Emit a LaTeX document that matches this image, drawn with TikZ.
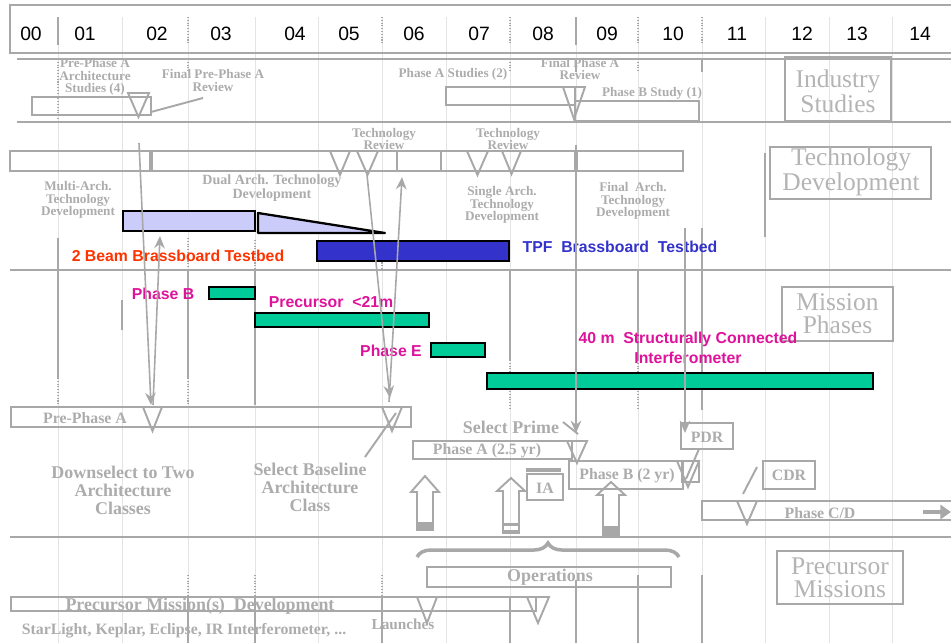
\documentclass[tikz,border=0pt]{standalone}
\usepackage{fontspec}
\setmainfont{Liberation Serif}
\setsansfont{Liberation Sans}
\usetikzlibrary{arrows.meta,fit,decorations.pathreplacing}
\definecolor{lg}{RGB}{168,168,168}
\definecolor{tg}{RGB}{172,172,172}
\definecolor{sg}{RGB}{180,180,180}
\definecolor{gridc}{RGB}{228,228,228}
\definecolor{lav}{RGB}{204,204,250}
\definecolor{tpfblue}{RGB}{51,51,204}
\definecolor{grn}{RGB}{0,204,153}
\definecolor{mag}{RGB}{222,18,155}
\definecolor{orng}{RGB}{255,51,0}
\newcommand\mytri[4]{\draw[gl] (#1,#2) -- (#3,#2) -- ({(#1+#3)/2},#4) -- cycle;}
\newcommand\myblk[5]{%
  \fill[lg] ({#1-8},#5) rectangle ({#1+8},#4);
  \draw[gl] (#1,#2) -- ({#1+14},#3) -- ({#1+8},#3) -- ({#1+8},#4) -- ({#1-8},#4) -- ({#1-8},#3) -- ({#1-14},#3) -- cycle;}
\tikzset{
  gl/.style={draw=lg,line width=1.1pt},
  gthin/.style={draw=lg,line width=0.8pt},
  box/.style={draw=lg,line width=1.1pt,inner sep=0pt,fit={#1}},
  barbox/.style={draw=black,line width=1.3pt,inner sep=0pt,fit={#1}},
  gridl/.style={draw=gridc,line width=0.4pt},
  dotl/.style={draw=lg,line width=0.6pt,densely dotted},
  yr/.style={font=\sffamily\fontsize{11}{11}\selectfont,text=black,inner sep=0pt},
  sm/.style={text=tg,font=\bfseries\fontsize{7.5}{7.1}\selectfont,align=center,inner sep=0pt},
  md/.style={text=tg,font=\bfseries\fontsize{9}{9}\selectfont,align=center,inner sep=0pt},
  bg/.style={text=tg,font=\bfseries\fontsize{10.2}{10.3}\selectfont,align=center,inner sep=0pt},
  sect/.style={text=sg,font=\fontsize{14.5}{13}\selectfont,align=center,inner sep=0pt},
  bb/.style={font=\sffamily\bfseries\fontsize{9}{11.3}\selectfont,align=center,inner sep=0pt},
  arr/.style={draw=lg,line width=0.9pt,-{Stealth[length=7pt,width=6pt]}},
}
\begin{document}
\begin{tikzpicture}[x=0.02cm,y=-0.02cm]
\useasboundingbox (0,0) rectangle (951,643);
% ---------- grid ----------
\foreach \x in {58,122,188,255,318,382,446,510,576,638,702,765,829,892}
  \draw[gridl] (\x,17) -- (\x,643);
\draw[gl] (58,17) -- (58,45);
\draw[gl] (576,17) -- (576,45);
\foreach \x in {188,382,510,638,702} \draw[dotl] (\x,17) -- (\x,45);
\draw[dotl] (58,59) -- (58,122);
\foreach \x in {188,510,638} \draw[dotl] (\x,59) -- (\x,72);
\draw[gl] (702,59) -- (702,72);
\draw[gl] (576,59) -- (576,72);
% tech dev / mission segments
\draw[gl] (58,238) -- (58,378);
\draw[dotl] (58,378) -- (58,405);
\draw[dotl] (188,238) -- (188,270);
\draw[gl] (188,270) -- (188,378);
\draw[dotl] (188,378) -- (188,405);
\draw[dotl] (255,240) -- (255,270);
\draw[gl] (255,270) -- (255,405);
\draw[gl] (122,300) -- (122,330);
\draw[dotl] (382,240) -- (382,270);
\draw[gl] (510,270) -- (510,360);
\draw[dotl] (510,360) -- (510,410);
\draw[gl] (638,270) -- (638,360);
\draw[dotl] (638,360) -- (638,410);
\draw[gl] (702,228) -- (702,410);
\draw[gl] (765,153) -- (765,237);
% bottom segments
\foreach \x in {188,255,382} {\draw[dotl] (\x,575) -- (\x,597); \draw[gl] (\x,597) -- (\x,643);}
\draw[gl] (510,597) -- (510,643);
\draw[gl] (576,580) -- (576,643);
\draw[gl] (638,575) -- (638,643);
\draw[gl] (702,575) -- (702,643);
% ---------- header ----------
\draw[gl] (951,5) -- (10,5) -- (10,53) -- (951,53);
\draw[gl] (17,59) -- (951,59);
\draw[gl] (17,122) -- (951,122);
\draw[gl] (10,270) -- (951,270);
\draw[gl] (10,537) -- (951,537);
\foreach \t/\x in {00/31,01/85,02/157,03/221,04/295,05/349,06/414,07/479,08/543,09/607,10/673,11/737,12/802,13/857,14/920}
  \node[yr] (y\t) at (\x,34) {\t};
% ---------- Industry studies ----------
\node[sm] (ppaas) at (95,77) {Pre-Phase A\\Architecture\\Studies (4)};
\node[box={(32,97)(151,115)}] (ppab) {};
\mytri{128}{93}{149}{117}
\node[sm] (fppr) at (213,80.5) {Final Pre-Phase A\\Review};
\coordinate (fpprl) at (203,98);
\coordinate (ppabr) at (151,112);
\draw[gl] (ppabr) -- (fpprl);
\node[sm] (pas) at (453,74) {Phase A Studies (2)};
\node[box={(446,87)(575,105)}] (pasb) {};
\mytri{563}{87}{585}{119}
\node[sm] (fpar) at (580,69) {Final Phase A\\Review};
\node[sm] (pbs) at (652,93) {Phase B Study (1)};
\node[box={(575,101)(699,121)}] (pbsb) {};
\node[box={(785,57)(891,121)}] (isb) {};
\node[sect] (ist) at (838,91.5) {Industry\\Studies};
% ---------- Technology development ----------
\node[box={(10,151)(683,171)}] (tdbar) {};
\draw[lg,line width=2.4pt] (151,151) -- (151,171);
\draw[lg,line width=2.4pt] (576,151) -- (576,171);
\draw[gl] (397,151) -- (397,171);
\draw[gl] (441,151) -- (441,171);
\mytri{330}{151}{350}{175}
\mytri{357}{151}{378}{175}
\mytri{467}{151}{488}{175}
\mytri{502}{151}{521}{174}
\node[sm] (tr1) at (384,139) {Technology\\Review};
\node[sm] (tr2) at (508,139) {Technology\\Review};
\node[sm] (mat) at (78,200) {Multi-Arch.\\Technology\\Development};
\node[sm,font=\bfseries\fontsize{8}{7.8}\selectfont] (dat) at (272,188) {Dual Arch. Technology\\Development};
\node[sm] (sat) at (502,205) {Single Arch.\\Technology\\Development};
\node[sm] (fat) at (633,201) {Final\ \ Arch.\\Technology\\Development};
\node[box={(770,147)(931,199)}] (tdb) {};
\node[sect] (tdt) at (851,172) {Technology\\Development};
\node[barbox={(123,211)(255,231)},fill=lav] (mab) {};
\draw[black,line width=1.3pt,fill=lav,line join=round] (258,213) -- (385,233) -- (258,233) -- cycle;
\node[barbox={(317,241)(509,261)},fill=tpfblue] (tpfb) {};
\node[bb,text=orng] (bbt) at (178,256) {2 Beam Brassboard Testbed};
\node[bb,text=tpfblue] (tpft) at (620,247) {TPF\ \ Brassboard\ \ Testbed};
% ---------- Mission phases ----------
\node[box={(782,287)(893,341)}] (mpb) {};
\node[sect] (mpt) at (837.5,314) {Mission\\Phases};
\node[bb,text=mag] (pbl) at (163,294) {Phase B};
\node[barbox={(209,287)(255,299)},fill=grn] (pbg) {};
\node[bb,text=mag] (prl) at (331,302) {Precursor\ \ {<}21m};
\node[barbox={(255,313)(429,327)},fill=grn] (prg) {};
\node[bb,text=mag] (pel) at (391,351) {Phase E};
\node[barbox={(431,343)(485,357)},fill=grn] (peg) {};
\node[bb,text=mag] (scl) at (688,348) {40 m\ \ Structurally Connected\\Interferometer};
\node[barbox={(487,373)(873,389)},fill=grn] (scg) {};
% long arrows
\coordinate (aa1) at (139,143); \coordinate (aa2) at (151,405);
\coordinate (ab1) at (153,405); \coordinate (ab2) at (160,236);
\coordinate (ac1) at (367,175); \coordinate (ac2) at (390,398);
\coordinate (ad1) at (389,402); \coordinate (ad2) at (402,177);
\draw[arr] (aa1) -- (aa2);
\draw[arr] (ab1) -- (ab2);
\draw[arr] (ac1) -- (ac2);
\draw[arr] (ad1) -- (ad2);
\coordinate (v576a) at (576,145); \coordinate (v576b) at (576,433);
\draw[gl,-{Stealth[length=7pt,width=6pt]}] (v576a) -- (v576b);
\coordinate (v685a) at (685,228); \coordinate (v685b) at (685,433);
\draw[gl,-{Stealth[length=7pt,width=6pt]}] (v685a) -- (v685b);
% Pre-Phase A
\node[box={(11,407)(411,427)}] (ppa) {};
\node[md] (ppat) at (85,418) {Pre-Phase A};
\mytri{143}{407}{162}{431}
\mytri{382}{407}{402}{431}
\node[bg] (dst) at (123,490) {Downselect to Two\\Architecture\\Classes};
\node[bg] (sbt) at (310,487) {Select Baseline\\Architecture\\Class};
\coordinate (sbl1) at (365,457); \coordinate (sbl2) at (396,413);
\draw[gl] (sbl1) -- (sbl2);
\node[bg] (spt) at (511,427) {Select Prime};
\coordinate (spl1) at (563,422); \coordinate (spl2) at (578,434);
\draw[gl] (spl1) -- (spl2);
\node[box={(413,441)(572,459)}] (pab) {};
\node[md] (pat) at (487,451) {Phase A (2.5 yr)};
\mytri{567}{441}{587}{463}
\node[box={(569,461)(683,489)}] (pbb) {};
\node[md] (pbt) at (627,476) {Phase B (2 yr)};
\node[box={(682,461)(699,482)}] (pbs2) {};
\mytri{677}{461}{699}{487}
\node[box={(681,423)(733,449)}] (pdrb) {};
\node[md] (pdrt) at (707,437) {PDR};
\coordinate (pdl1) at (699,449); \coordinate (pdl2) at (686,479);
\draw[gl] (pdl1) -- (pdl2);
\node[box={(763,461)(815,489)}] (cdrb) {};
\node[md] (cdrt) at (789,475) {CDR};
\coordinate (cdl1) at (757,467); \coordinate (cdl2) at (743,494);
\draw[gl] (cdl1) -- (cdl2);
\draw[gl] (955,501) -- (702,501) -- (702,520) -- (955,520);
\node[md] (pcdt) at (820,513) {Phase C/D};
\mytri{737}{501}{757}{524}
\coordinate (cda1) at (923,512); \coordinate (cda2) at (951,512);
\draw[lg,line width=2.6pt,-{Triangle[length=6pt,width=8pt]}] (cda1) -- (cda2);
\node[box={(527,474)(563,500)}] (iab) {};
\node[md] (iat) at (545,488) {IA};
\draw[lg,line width=2.6pt] (526,470) -- (561,470);
\myblk{425}{476}{492}{530}{522}
\myblk{511}{478}{491}{533}{530}
\fill[lg] (503,523) rectangle (519,526);
\myblk{611}{482}{495}{535}{526}
% ---------- Precursor missions ----------
\coordinate (brl) at (417,557); \coordinate (brr) at (679,557);
\draw[lg,line width=2pt,decorate,decoration={brace,amplitude=0.28cm}] (brl) -- (brr);
\node[box={(427,567)(671,587)}] (opb) {};
\node[bg] (opt) at (550,577) {Operations};
\node[bg] (pmdt) at (200,606) {Precursor Mission(s)\ \ Development};
\node[box={(11,597)(536,611)}] (pmdb) {};
\mytri{417}{597}{437}{623}
\mytri{527}{597}{549}{623}
\node[md,font=\bfseries\fontsize{8.7}{9}\selectfont] (lnt) at (403,624) {Launches};
\node[md] (slt) at (184,631) {StarLight, Keplar, Eclipse, IR Interferometer, ...};
\node[box={(777,551)(903,604)}] (pmb) {};
\node[sect] (pmt) at (840,578) {Precursor\\Missions};
\end{tikzpicture}
\end{document}
